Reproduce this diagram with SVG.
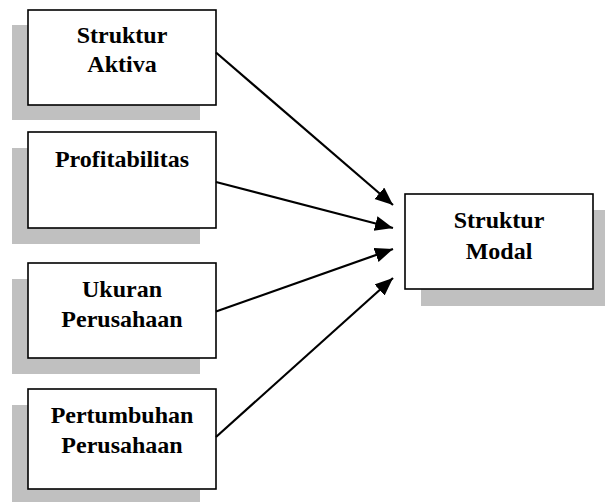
<svg xmlns="http://www.w3.org/2000/svg" width="605" height="502" viewBox="0 0 605 502">
<style>
.shadow{fill:#c0c0c0;stroke:none}
.box{fill:#ffffff;stroke:#000000;stroke-width:1.6}
.lbl{font-family:"Liberation Serif","Times New Roman",serif;font-weight:bold;font-size:24px;fill:#000000;text-anchor:middle}
.conn{stroke:#000000;stroke-width:2.2;fill:none;marker-end:url(#arrow)}
</style>
<defs>
<marker id="arrow" markerUnits="userSpaceOnUse" markerWidth="20" markerHeight="16" refX="18" refY="7.5" orient="auto">
<path d="M0,0 L18,7.5 L0,15 z" fill="#000000"/>
</marker>
</defs>
<rect width="605" height="502" fill="#ffffff"/>
<g id="node-struktur-aktiva">
<rect class="shadow" x="12" y="25" width="188" height="95"/>
<rect class="box" x="28" y="10" width="188" height="95"/>
<text class="lbl" x="122" y="43">Struktur</text>
<text class="lbl" x="122" y="72">Aktiva</text>
</g>
<g id="node-profitabilitas">
<rect class="shadow" x="12" y="148" width="188" height="96"/>
<rect class="box" x="28" y="132" width="188" height="96"/>
<text class="lbl" x="122" y="167">Profitabilitas</text>
</g>
<g id="node-ukuran-perusahaan">
<rect class="shadow" x="12" y="279" width="188" height="95"/>
<rect class="box" x="28" y="263" width="188" height="95"/>
<text class="lbl" x="122" y="297">Ukuran</text>
<text class="lbl" x="122" y="327">Perusahaan</text>
</g>
<g id="node-pertumbuhan-perusahaan">
<rect class="shadow" x="12" y="405" width="188" height="100"/>
<rect class="box" x="28" y="389" width="188" height="100"/>
<text class="lbl" x="122" y="423">Pertumbuhan</text>
<text class="lbl" x="122" y="453">Perusahaan</text>
</g>
<g id="node-struktur-modal">
<rect class="shadow" x="421" y="210" width="188" height="96"/>
<rect class="box" x="405" y="194" width="188" height="95"/>
<text class="lbl" x="499" y="228">Struktur</text>
<text class="lbl" x="499" y="259">Modal</text>
</g>
<g id="connectors">
<line class="conn" x1="216" y1="52.5" x2="393" y2="205"/>
<line class="conn" x1="216" y1="182" x2="393" y2="228"/>
<line class="conn" x1="216" y1="311.5" x2="393" y2="249"/>
<line class="conn" x1="216" y1="437" x2="393" y2="278"/>
</g>
</svg>
